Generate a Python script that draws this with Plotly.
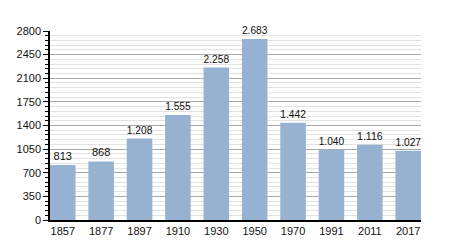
import plotly.graph_objects as go

years = ["1857", "1877", "1897", "1910", "1930", "1950", "1970", "1991", "2011", "2017"]
population = [813, 868, 1208, 1555, 2258, 2683, 1442, 1040, 1116, 1027]
labels = [f"{v:,}".replace(",", ".") for v in population]
y_ticks = [0, 350, 700, 1050, 1400, 1750, 2100, 2450, 2800]

fig = go.Figure(go.Bar(
    x=years, y=population, text=labels,
    textposition="outside", cliponaxis=False,
    marker=dict(color="#97b2d0", line=dict(width=0)),
    textfont=dict(family="Liberation Sans, Arial, sans-serif", size=11, color="#111"),
))

fig.update_layout(
    width=450, height=250,
    margin=dict(l=50, r=29, t=31, b=30),
    paper_bgcolor="white", plot_bgcolor="white",
    bargap=0.334, showlegend=False,
    font=dict(family="Liberation Sans, Arial, sans-serif", size=11, color="#111"),
)
fig.update_xaxes(
    type="category", range=[-0.333, 9.333],
    showline=True, linecolor="black", linewidth=1.5,
    ticks="", showgrid=False, tickfont=dict(size=11),
)
fig.update_yaxes(
    range=[0, 2800], tickvals=y_ticks, ticktext=[str(v) for v in y_ticks],
    showline=True, linecolor="black", linewidth=1.5,
    ticks="outside", ticklen=5, tickcolor="black",
    showgrid=True, gridcolor="#a8a8a8", gridwidth=1,
    zeroline=False,
    minor=dict(dtick=70, tick0=0, showgrid=True, gridcolor="#e2e2e2", gridwidth=1,
               ticks="outside", ticklen=3, tickcolor="black"),
    tickfont=dict(size=11),
)

fig.write_html("out.html")
